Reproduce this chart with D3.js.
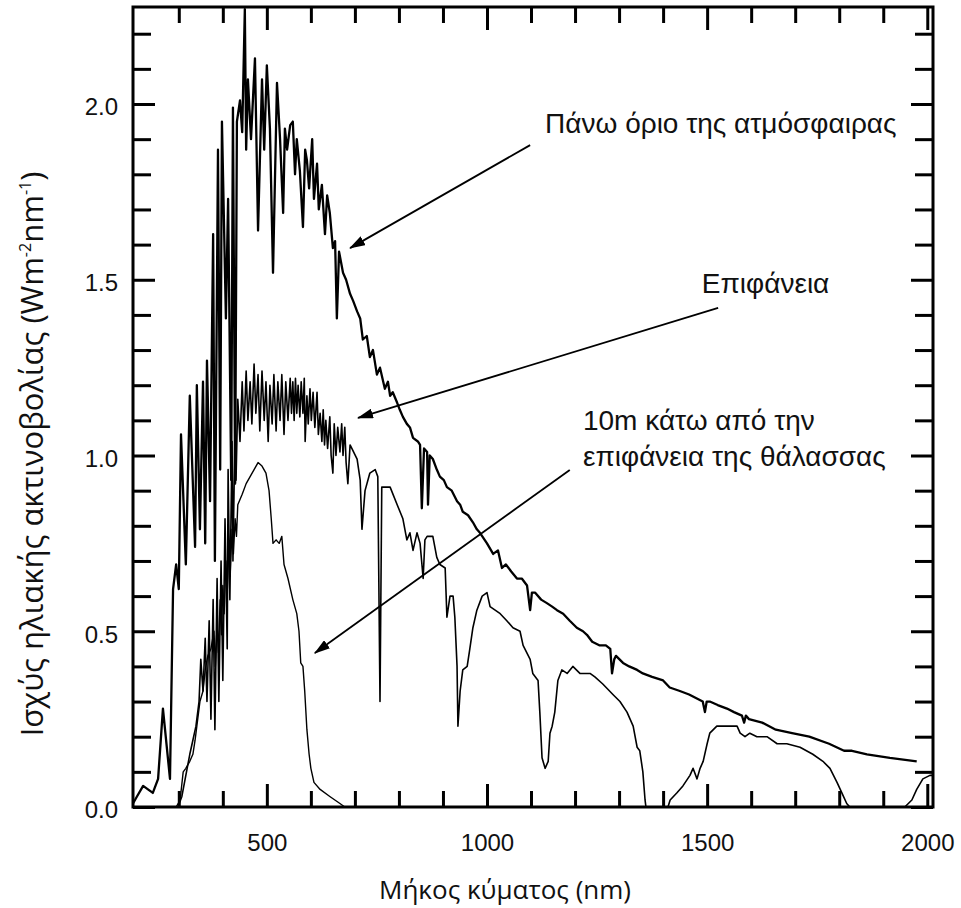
<!DOCTYPE html>
<html>
<head>
<meta charset="utf-8">
<script src="https://cdn.jsdelivr.net/npm/d3@7"></script>
<style>
  body { margin: 0; background: #fff; }
</style>
</head>
<body>
<svg id="chart"></svg>
<script>
// Spectres : [longueur d'onde (nm), W m-2 nm-1]
const topOfAtmosphere = [
  [196,0.01],[205,0.03],[219,0.06],[230,0.05],[241,0.04],[253,0.08],[264,0.28],[280,0.08],
  [287,0.62],[294,0.69],[300,0.62],[305,1.06],[316,0.69],[325,1.17],[337,0.74],[341,1.20],
  [348,0.79],[355,1.21],[360,0.75],[364,1.27],[371,0.87],[378,1.63],[382,0.70],[389,1.87],
  [394,0.96],[398,1.95],[407,1.39],[412,1.73],[419,0.93],[423,1.99],[428,0.92],[432,1.95],
  [439,2.01],[444,1.92],[450,2.27],[453,1.87],[457,2.07],[464,1.90],[473,2.13],[480,1.64],
  [489,2.07],[494,1.87],[500,2.11],[507,1.93],[514,1.52],[523,2.06],[530,1.90],[537,1.69],
  [541,1.93],[546,1.87],[553,1.94],[559,1.95],[564,1.80],[568,1.90],[575,1.81],[582,1.65],
  [587,1.87],[591,1.84],[596,1.76],[603,1.90],[607,1.73],[614,1.83],[618,1.70],[625,1.77],
  [632,1.63],[637,1.74],[643,1.69],[650,1.59],[655,1.61],[659,1.39],[664,1.58],[673,1.52],
  [680,1.50],[689,1.46],[696,1.44],[705,1.41],[712,1.39],[718,1.33],[727,1.34],[734,1.28],
  [741,1.30],[750,1.23],[757,1.25],[768,1.19],[775,1.21],[780,1.17],[786,1.18],[796,1.15],
  [802,1.13],[809,1.11],[818,1.09],[825,1.08],[832,1.05],[843,1.04],[848,1.03],[852,0.85],
  [857,1.02],[864,1.01],[866,0.86],[870,1.00],[877,0.99],[886,0.96],[893,0.94],[902,0.93],
  [909,0.91],[920,0.90],[932,0.87],[939,0.86],[945,0.84],[957,0.83],[968,0.81],[977,0.79],
  [984,0.78],[1000,0.75],[1014,0.72],[1025,0.73],[1034,0.68],[1043,0.69],[1055,0.67],[1068,0.65],
  [1079,0.65],[1091,0.63],[1098,0.56],[1102,0.61],[1109,0.61],[1123,0.59],[1136,0.58],[1148,0.57],
  [1159,0.56],[1173,0.55],[1188,0.53],[1204,0.51],[1218,0.50],[1227,0.49],[1239,0.47],[1255,0.46],
  [1270,0.46],[1280,0.45],[1284,0.38],[1289,0.42],[1293,0.43],[1309,0.41],[1323,0.40],[1341,0.39],
  [1354,0.38],[1375,0.37],[1400,0.36],[1415,0.34],[1438,0.33],[1459,0.32],[1490,0.30],[1495,0.27],
  [1499,0.30],[1506,0.30],[1524,0.29],[1545,0.28],[1561,0.27],[1579,0.26],[1584,0.24],[1588,0.26],
  [1595,0.25],[1625,0.24],[1656,0.22],[1693,0.21],[1732,0.20],[1777,0.18],[1811,0.16],[1829,0.16],
  [1863,0.15],[1915,0.14],[1976,0.13]
];

const surface = [
  [298,0],[307,0.03],[316,0.09],[325,0.15],[332,0.19],[339,0.23],[346,0.30],[350,0.42],
  [355,0.33],[360,0.48],[364,0.30],[369,0.53],[373,0.25],[378,0.59],[382,0.22],[387,0.65],
  [391,0.30],[396,0.70],[400,0.36],[405,0.82],[410,0.45],[412,0.96],[416,0.59],[421,1.04],
  [423,0.70],[428,1.10],[430,0.93],[434,1.16],[439,1.04],[444,1.21],[448,1.07],[453,1.24],
  [457,1.10],[462,1.21],[466,1.09],[471,1.26],[475,1.12],[480,1.23],[484,1.07],[489,1.24],
  [494,1.10],[498,1.21],[503,1.04],[507,1.20],[512,1.09],[516,1.23],[521,1.07],[525,1.21],
  [530,1.10],[534,1.23],[539,1.06],[543,1.21],[548,1.10],[553,1.22],[556,1.12],[559,1.21],
  [562,1.10],[565,1.22],[568,1.12],[571,1.20],[575,1.11],[578,1.21],[582,1.12],[585,1.22],
  [587,1.04],[591,1.17],[594,1.09],[598,1.19],[601,1.10],[605,1.18],[609,1.08],[614,1.18],
  [617,1.06],[621,1.12],[625,1.04],[628,1.13],[631,1.03],[634,1.10],[638,1.02],[643,1.11],
  [646,1.00],[650,0.95],[653,1.09],[657,1.00],[661,1.08],[666,1.01],[670,1.09],[673,1.00],
  [677,1.08],[680,0.98],[684,0.92],[689,1.03],[693,1.02],[705,0.99],[712,0.93],[716,0.79],
  [723,0.90],[734,0.95],[746,0.96],
  [752,0.94],[757,0.30],[761,0.91],[780,0.91],[796,0.86],[809,0.82],[818,0.76],[825,0.78],
  [832,0.73],[841,0.78],[848,0.75],[855,0.65],[859,0.76],[864,0.77],[877,0.77],[886,0.71],
  [893,0.69],[905,0.68],[909,0.54],[916,0.60],[923,0.60],[927,0.54],[932,0.40],[934,0.23],
  [939,0.33],[945,0.39],[955,0.40],[961,0.45],[968,0.51],[977,0.56],[989,0.60],[1000,0.61],
  [1007,0.57],[1030,0.55],[1045,0.53],[1059,0.51],[1075,0.50],[1082,0.46],[1098,0.42],[1104,0.38],
  [1116,0.36],[1120,0.27],[1125,0.14],[1132,0.11],[1139,0.13],[1143,0.21],[1148,0.23],[1154,0.27],
  [1161,0.36],[1170,0.39],[1182,0.38],[1195,0.40],[1211,0.38],[1234,0.38],[1245,0.37],[1263,0.35],
  [1286,0.32],[1302,0.30],[1318,0.27],[1332,0.23],[1341,0.17],[1347,0.16],[1354,0.10],[1359,0.02],
  [1361,0],[1411,0],[1416,0.02],[1431,0.04],[1445,0.06],[1461,0.09],[1468,0.11],[1477,0.08],
  [1484,0.11],[1491,0.13],[1500,0.18],[1506,0.21],[1522,0.23],[1536,0.23],[1568,0.23],[1575,0.21],
  [1586,0.20],[1597,0.21],[1613,0.20],[1636,0.20],[1659,0.18],[1681,0.18],[1711,0.17],[1740,0.15],
  [1763,0.13],[1779,0.11],[1795,0.07],[1806,0.04],[1817,0.01],[1824,0],[1949,0],[1965,0.02],
  [1976,0.05],[1990,0.08],[2006,0.09],[2013,0.09]
];

const underSea10m = [
  [294,0],[303,0.02],[310,0.10],[316,0.11],[325,0.13],[332,0.15],[337,0.19],[341,0.23],
  [348,0.30],[355,0.33],[360,0.39],[366,0.43],[373,0.45],[380,0.50],[383,0.40],[387,0.52],
  [390,0.44],[394,0.59],[397,0.49],[400,0.63],[403,0.55],[407,0.70],[410,0.61],[414,0.75],
  [417,0.67],[421,0.79],[424,0.72],[428,0.82],[431,0.77],[434,0.86],[444,0.89],[453,0.92],
  [462,0.94],[471,0.96],[480,0.98],[489,0.97],[498,0.95],[505,0.90],[510,0.82],[514,0.75],
  [521,0.76],[528,0.75],[534,0.77],[539,0.69],[548,0.65],[559,0.59],[568,0.55],[573,0.50],
  [577,0.41],[582,0.40],[586,0.33],[591,0.22],[596,0.15],[600,0.11],[607,0.07],[621,0.05],
  [643,0.03],[666,0.01],[677,0]
];

// Graduations
const xMajor = [500, 1000, 1500, 2000];
const xMinor = [300, 400, 600, 700, 800, 900, 1100, 1200, 1300, 1400, 1600, 1700, 1800, 1900];
const yMajor = [0, 0.5, 1.0, 1.5, 2.0];
const yMinor = [0.1, 0.2, 0.3, 0.4, 0.6, 0.7, 0.8, 0.9, 1.1, 1.2, 1.3, 1.4, 1.6, 1.7, 1.8, 1.9, 2.1, 2.2];

// Annotations : texte, position du texte et flèche (début -> pointe) en unités des données
const labels = [
  { lines: ["Πάνω όριο της ατμόσφαιρας"], at: [1132, 1.917], from: [1098, 1.883], to: [689, 1.590] },
  { lines: ["Επιφάνεια"], at: [1488, 1.462], from: [1525, 1.420], to: [707, 1.107] },
  { lines: ["10m κάτω από την", "επιφάνεια της θάλασσας"], at: [1218, 1.073], from: [1188, 0.959], to: [609, 0.438] }
];

const width = 961;
const height = 908;
const plotLeft = 133, plotRight = 933, plotTop = 7, plotBottom = 807;

const svg = d3.select("#chart")
  .attr("width", width)
  .attr("height", height);

svg.append("rect").attr("width", width).attr("height", height).attr("fill", "#fff");

const x = d3.scaleLinear().domain([196, 2013]).range([plotLeft, plotRight]);
const y = d3.scaleLinear().domain([0, 2.276]).range([plotBottom, plotTop]);

const tickFont = "'Liberation Sans', Arial, sans-serif";

function styleAxis(g) {
  g.selectAll(".domain").remove();
  g.selectAll(".tick line").attr("stroke", "#000").attr("stroke-width", 3);
  g.selectAll(".tick text")
    .attr("fill", "#111")
    .attr("font-family", tickFont)
    .attr("font-size", 24);
}

// axes du bas et de gauche avec les valeurs
svg.append("g")
  .attr("transform", `translate(0,${plotBottom})`)
  .call(d3.axisBottom(x).tickValues(xMajor).tickSize(-23).tickSizeOuter(0).tickPadding(27).tickFormat(d3.format("d")))
  .call(styleAxis);
svg.append("g")
  .attr("transform", `translate(0,${plotBottom})`)
  .call(d3.axisBottom(x).tickValues(xMinor).tickSize(-16).tickSizeOuter(0).tickFormat(""))
  .call(styleAxis);

svg.append("g")
  .attr("transform", `translate(${plotLeft},0)`)
  .call(d3.axisLeft(y).tickValues(yMajor).tickSize(-22).tickSizeOuter(0).tickPadding(15).tickFormat(d3.format(".1f")))
  .call(styleAxis)
  .selectAll(".tick text").attr("dy", "0.45em");
svg.append("g")
  .attr("transform", `translate(${plotLeft},0)`)
  .call(d3.axisLeft(y).tickValues(yMinor).tickSize(-18).tickSizeOuter(0).tickFormat(""))
  .call(styleAxis);

// haut et droite : seulement les graduations
svg.append("g")
  .attr("transform", `translate(0,${plotTop})`)
  .call(d3.axisTop(x).tickValues(xMajor).tickSize(-23).tickSizeOuter(0).tickFormat(""))
  .call(styleAxis);
svg.append("g")
  .attr("transform", `translate(0,${plotTop})`)
  .call(d3.axisTop(x).tickValues(xMinor).tickSize(-16).tickSizeOuter(0).tickFormat(""))
  .call(styleAxis);
svg.append("g")
  .attr("transform", `translate(${plotRight},0)`)
  .call(d3.axisRight(y).tickValues(yMajor).tickSize(-22).tickSizeOuter(0).tickFormat(""))
  .call(styleAxis);
svg.append("g")
  .attr("transform", `translate(${plotRight},0)`)
  .call(d3.axisRight(y).tickValues(yMinor).tickSize(-18).tickSizeOuter(0).tickFormat(""))
  .call(styleAxis);

// les courbes
const line = d3.line().x(d => x(d[0])).y(d => y(d[1]));

svg.append("path")
  .datum(underSea10m)
  .attr("d", line)
  .attr("fill", "none")
  .attr("stroke", "#000")
  .attr("stroke-width", 1.4)
  .attr("stroke-linejoin", "round");

svg.append("path")
  .datum(surface)
  .attr("d", line)
  .attr("fill", "none")
  .attr("stroke", "#000")
  .attr("stroke-width", 1.6)
  .attr("stroke-linejoin", "round");

svg.append("path")
  .datum(topOfAtmosphere)
  .attr("d", line)
  .attr("fill", "none")
  .attr("stroke", "#000")
  .attr("stroke-width", 2.3)
  .attr("stroke-linejoin", "round");

// cadre
svg.append("rect")
  .attr("x", plotLeft)
  .attr("y", plotTop)
  .attr("width", plotRight - plotLeft)
  .attr("height", plotBottom - plotTop)
  .attr("fill", "none")
  .attr("stroke", "#000")
  .attr("stroke-width", 3);

// flèches + textes
svg.append("defs").append("marker")
  .attr("id", "head")
  .attr("viewBox", "0 0 16 10")
  .attr("refX", 15)
  .attr("refY", 5)
  .attr("markerWidth", 16)
  .attr("markerHeight", 10)
  .attr("markerUnits", "userSpaceOnUse")
  .attr("orient", "auto")
  .append("path")
  .attr("d", "M0,0 L16,5 L0,10 Z")
  .attr("fill", "#000");

labels.forEach(l => {
  svg.append("line")
    .attr("x1", x(l.from[0]))
    .attr("y1", y(l.from[1]))
    .attr("x2", x(l.to[0]))
    .attr("y2", y(l.to[1]))
    .attr("stroke", "#000")
    .attr("stroke-width", 1.8)
    .attr("marker-end", "url(#head)");

  const t = svg.append("text")
    .attr("x", x(l.at[0]))
    .attr("y", y(l.at[1]))
    .attr("font-family", tickFont)
    .attr("font-size", 28)
    .attr("fill", "#111");
  l.lines.forEach((s, i) => {
    t.append("tspan")
      .attr("x", x(l.at[0]))
      .attr("dy", i === 0 ? 0 : 36)
      .text(s);
  });
});

// titres des axes
svg.append("text")
  .attr("x", 505)
  .attr("y", 899)
  .attr("text-anchor", "middle")
  .attr("font-family", "'Open Sans', sans-serif")
  .attr("font-size", 26)
  .attr("fill", "#111")
  .text("Μήκος κύματος (nm)");

const yTitle = svg.append("text")
  .attr("transform", "translate(43,454) rotate(-90)")
  .attr("text-anchor", "middle")
  .attr("font-family", "'Open Sans', sans-serif")
  .attr("font-size", 31)
  .attr("fill", "#111");
yTitle.append("tspan").text("Ισχύς ηλιακής ακτινοβολίας (Wm");
yTitle.append("tspan").attr("font-size", 16).attr("dy", -12).text("-2");
yTitle.append("tspan").attr("dy", 12).text("nm");
yTitle.append("tspan").attr("font-size", 16).attr("dy", -12).text("-1");
yTitle.append("tspan").attr("dy", 12).text(")");
</script>
</body>
</html>
